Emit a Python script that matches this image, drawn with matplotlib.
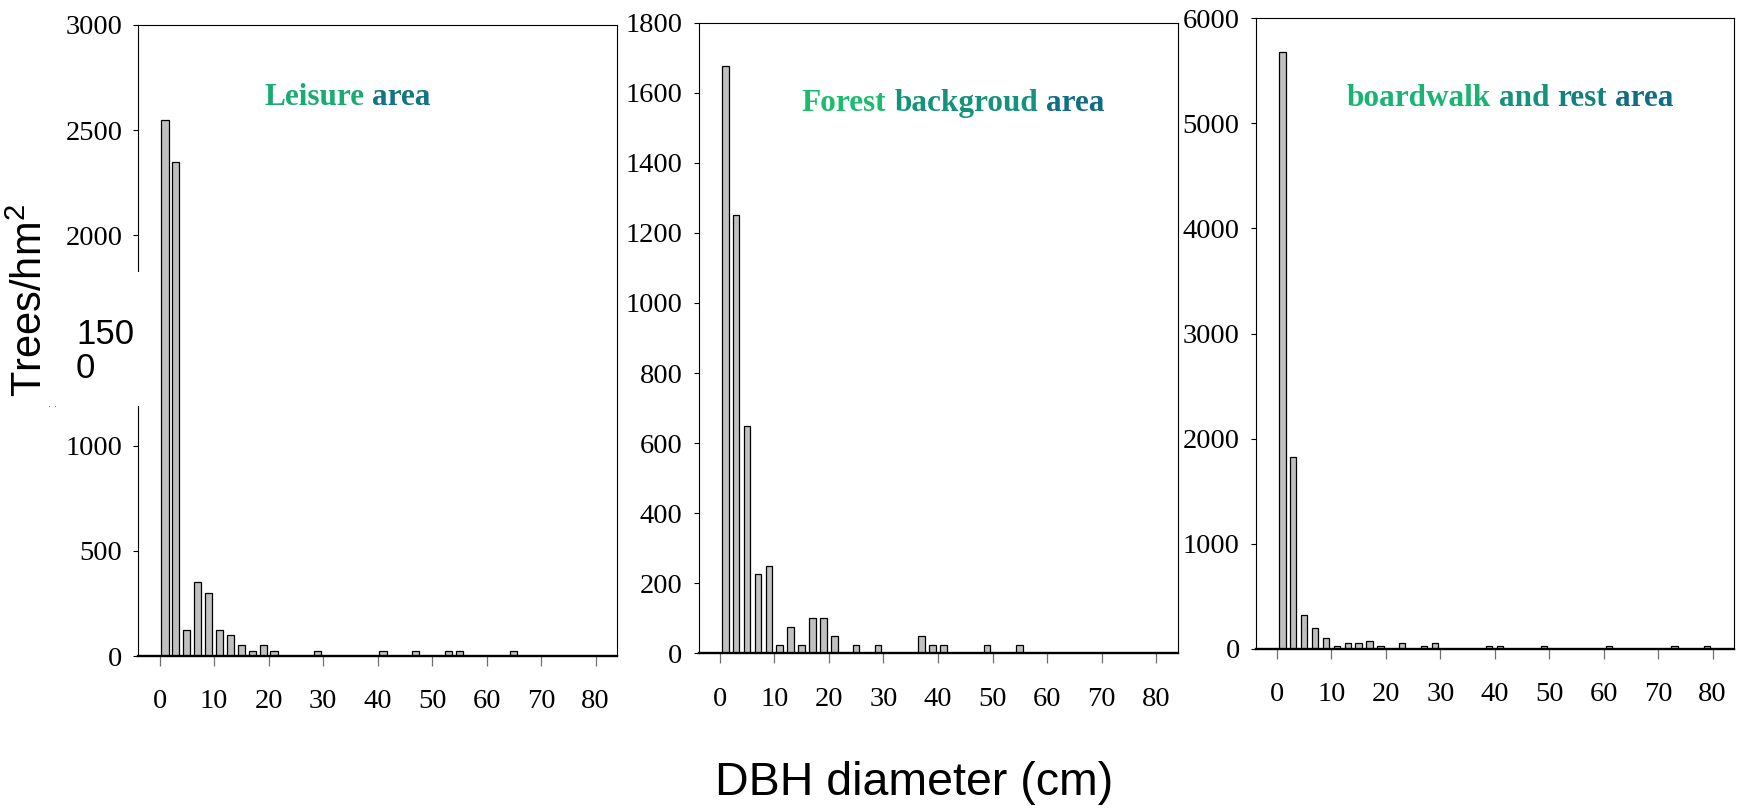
import matplotlib
matplotlib.use("Agg")
import matplotlib.pyplot as plt
from matplotlib.patches import Rectangle
import numpy as np

# ---------------- data ----------------
dbh_classes = list(range(1, 80, 2))  # class centres (cm)

leisure = [2550, 2350, 125, 350, 300, 125, 100, 50, 25, 50,
           25, 0, 0, 0, 25, 0, 0, 0, 0, 0,
           25, 0, 0, 25, 0, 0, 25, 25, 0, 0,
           0, 0, 25, 0, 0, 0, 0, 0, 0, 0]
forest = [1675, 1250, 650, 225, 250, 25, 75, 25, 100, 100,
          50, 0, 25, 0, 25, 0, 0, 0, 50, 25,
          25, 0, 0, 0, 25, 0, 0, 25, 0, 0,
          0, 0, 0, 0, 0, 0, 0, 0, 0, 0]
boardwalk = [5675, 1825, 325, 200, 100, 25, 50, 50, 75, 25,
             0, 50, 0, 25, 50, 0, 0, 0, 0, 25,
             25, 0, 0, 0, 25, 0, 0, 0, 0, 0,
             25, 0, 0, 0, 0, 0, 25, 0, 0, 25]

titles = [["Leisure", "area"],
          ["Forest", "backgroud", "area"],
          ["boardwalk", "and", "rest", "area"]]
yticks_list = [[0, 500, 1000, 2000, 2500, 3000],
               [0, 200, 400, 600, 800, 1000, 1200, 1400, 1600, 1800],
               [0, 1000, 2000, 3000, 4000, 5000, 6000]]
ylims = [3000, 1800, 6000]
xticks = list(range(0, 81, 10))

# ---------------- layout ----------------
W, H = 1738, 808
fig = plt.figure(figsize=(W / 100, H / 100), dpi=100)

def fx(px):
    return px / W

def fy(py):
    return 1 - py / H

boxes = [(138.3, 617.4, 25.0, 656.0),
         (698.5, 1178.0, 22.7, 653.3),
         (1255.7, 1734.4, 18.3, 648.7)]
title_pos = [(347.4, 105.0), (953.0, 111.0), (1510.0, 105.5)]
bar_widths = [1.3, 1.22, 1.15]
series = [leisure, forest, boardwalk]

serif = "Liberation Serif"
sans = "Liberation Sans"
plt.rcParams["mathtext.default"] = "regular"

c0 = np.array([0x1C, 0xCB, 0x6A]) / 255.0
c1 = np.array([0x10, 0x63, 0x88]) / 255.0

renderer = fig.canvas.get_renderer()


def gradient_title(words, cx, base, size=22.5):
    texts, widths = [], []
    for w in words:
        t = fig.text(0, 0, w, fontsize=size, fontweight="bold", family=serif,
                     va="baseline", ha="left", zorder=5)
        widths.append(t.get_window_extent(renderer).width)
        texts.append(t)
    probe1 = fig.text(0, 0, "a a", fontsize=size, fontweight="bold", family=serif)
    probe2 = fig.text(0, 0, "aa", fontsize=size, fontweight="bold", family=serif)
    space = probe1.get_window_extent(renderer).width - probe2.get_window_extent(renderer).width
    probe1.remove()
    probe2.remove()
    total = sum(widths) + space * (len(words) - 1)
    x = cx - total / 2
    start = x
    for t, w in zip(texts, widths):
        frac = (x + w / 2 - start) / total
        col = c0 + (c1 - c0) * frac
        t.set_position((fx(x), fy(base)))
        t.set_color(col)
        x += w + space


for i, (l, r, top, bot) in enumerate(boxes):
    ax = fig.add_axes([fx(l), fy(bot), fx(r) - fx(l), fy(top) - fy(bot)])
    vals = np.array(series[i])
    xs = np.array(dbh_classes)
    m = vals > 0
    ax.bar(xs[m], vals[m], width=bar_widths[i], color="#C0C0C0",
           edgecolor="black", linewidth=0.9, zorder=2)
    ax.set_xlim(-3.9, 84)
    ax.set_ylim(0, ylims[i])
    ax.set_xticks(xticks)
    ax.set_yticks(yticks_list[i])
    ax.tick_params(axis="x", direction="out", length=7, width=0.9,
                   color="#707070", pad=17, labelsize=20.5)
    ax.tick_params(axis="y", direction="out", length=3.5, width=0.8,
                   pad=8, labelsize=20.5)
    for lab in ax.get_xticklabels() + ax.get_yticklabels():
        lab.set_family(serif)
    for s in ["top", "right", "left"]:
        ax.spines[s].set_linewidth(0.8)
    ax.spines["bottom"].set_linewidth(1.7)
    ax.spines["bottom"].set_zorder(3)
    gradient_title(titles[i], *title_pos[i])

# white patch breaking the first panel's y axis
fig.patches.append(Rectangle((fx(50), fy(406)), fx(141) - fx(50), fy(272) - fy(406),
                             transform=fig.transFigure, facecolor="white",
                             edgecolor="none", zorder=3))
fig.text(fx(76), fy(318), "150\n0", family=sans, fontsize=25, ha="left", va="top",
         linespacing=1.05, zorder=4)
fig.text(fx(53), fy(407), "\u00b7 \u00b7", family=sans, fontsize=7, ha="center",
         va="center", color="#444444", zorder=4)

# axis labels
fig.text(fx(31), fy(301), "Trees/hm$^2$", family=sans, fontsize=30, rotation=90,
         ha="center", va="center", zorder=5)
fig.text(fx(914), fy(795), "DBH diameter (cm)", family=sans, fontsize=33.5,
         ha="center", va="baseline", zorder=5)

fig.savefig("out.png", dpi=100)
